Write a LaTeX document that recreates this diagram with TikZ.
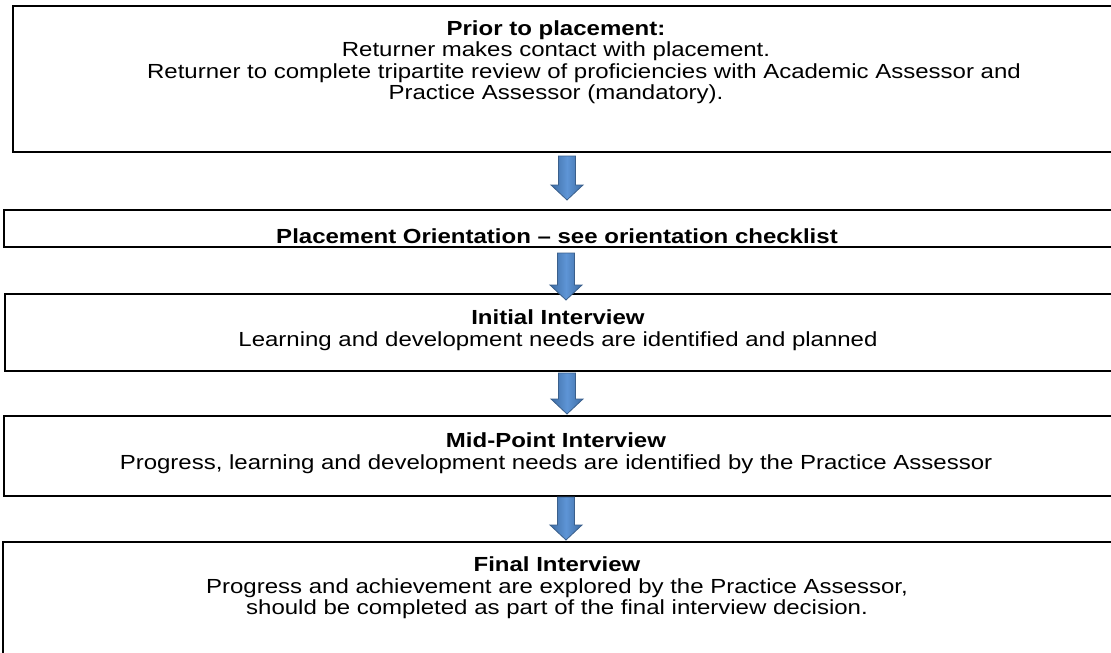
\documentclass[tikz,border=0pt]{standalone}
\usepackage{fontspec}
\setmainfont{Liberation Sans}
\usetikzlibrary{calc}
\definecolor{arrowedge}{HTML}{3A5F8B}
\definecolor{arrowdark}{HTML}{3E6CA3}
\definecolor{arrowlight}{HTML}{5E95D6}
\tikzset{
  stage/.style={draw=black, line width=1.6pt, fill=white},
  label/.style={inner sep=0pt, align=center, yscale=0.85, transform shape, font=\fontsize{24}{25.3}\selectfont},
  fat/.style={draw=arrowedge, line width=0.8pt, left color=arrowdark, right color=arrowdark, middle color=arrowlight},
}
\newcommand\fatarrow[2]{%
  \path[fat] let \p1=(#1), \p2=(#2) in
    (\x1-8.5pt,\y1) -- (\x1+8.5pt,\y1) -- (\x1+8.5pt,\y2+15pt) -- (\x1+16pt,\y2+15pt)
    -- (\x1,\y2) -- (\x1-16pt,\y2+15pt) -- (\x1-8.5pt,\y2+15pt) -- cycle;}
\begin{document}
\begin{tikzpicture}[x=1pt,y=-1pt]
\useasboundingbox (0,0) rectangle (1111,653);
\clip (0,0) rectangle (1111,653);
\fill[white] (0,0) rectangle (1111,653);
% boxes
\path[stage] (13,6) rectangle (1125,152) coordinate (b1);
\path[stage] (4,210) rectangle (1125,247) coordinate (b2);
\path[stage] (5,294) rectangle (1125,371) coordinate (b3);
\path[stage] (4,416) rectangle (1125,496) coordinate (b4);
\path[stage] (3,542) rectangle (1125,680) coordinate (b5);
% texts
\node[label] (t1) at (556,62) {\textbf{Prior to placement:}\\Returner makes contact with placement.\\\hspace*{56pt}Returner to complete tripartite review of proficiencies with Academic Assessor and\\Practice Assessor (mandatory).};
\node[label] (t2) at (557,236) {\textbf{Placement Orientation – see orientation checklist}};
\node[label] (t3) at (558,330) {\textbf{Initial Interview}\\Learning and development needs are identified and planned};
\node[label] (t4) at (556,453) {\textbf{Mid-Point Interview}\\Progress, learning and development needs are identified by the Practice Assessor};
\node[label] (t5) at (557,588) {\textbf{Final Interview}\\Progress and achievement are explored by the Practice Assessor,\\should be completed as part of the final interview decision.};
% arrow anchors
\coordinate (a1s) at (567,156); \coordinate (a1e) at (567,200);
\coordinate (a2s) at (566,253); \coordinate (a2e) at (566,300);
\coordinate (a3s) at (567,373); \coordinate (a3e) at (567,414);
\coordinate (a4s) at (566,497); \coordinate (a4e) at (566,540);
\fatarrow{a1s}{a1e}
\fatarrow{a2s}{a2e}
\fatarrow{a3s}{a3e}
\fatarrow{a4s}{a4e}
\end{tikzpicture}
\end{document}
